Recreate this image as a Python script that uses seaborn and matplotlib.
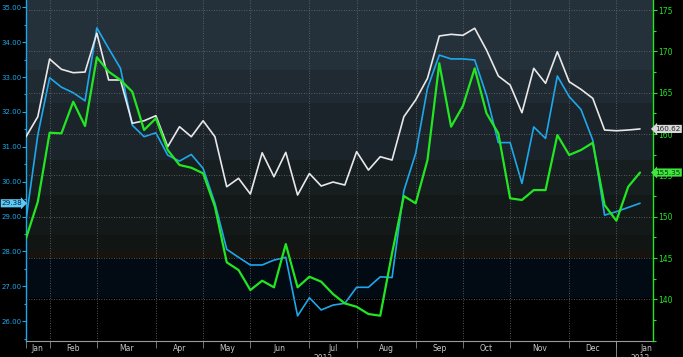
import matplotlib
matplotlib.use("Agg")
import matplotlib.pyplot as plt
from matplotlib.ticker import FixedLocator, MultipleLocator, FormatStrFormatter
import numpy as np
import pandas as pd
import seaborn as sns

# weekly bars (Fridays), Jan 2012 - Jan 2013
week_dates = pd.date_range("2012-01-20", periods=53, freq="W-FRI")

# blue series, left axis
blue_left = [
    28.90, 31.34, 32.98, 32.71, 32.55, 32.32, 34.41, 33.82, 33.25, 31.62,
    31.29, 31.40, 30.76, 30.59, 30.78, 30.38, 29.38, 28.06, 27.83, 27.61,
    27.61, 27.75, 27.83, 26.15, 26.67, 26.32, 26.46, 26.51, 26.97, 26.97,
    27.27, 27.25, 29.74, 30.81, 32.68, 33.63, 33.52, 33.52, 33.49, 32.48,
    31.12, 31.12, 29.95, 31.57, 31.24, 33.03, 32.44, 32.07, 31.19, 29.04,
    29.14, 29.26, 29.38,
]

# white series, right axis
white_right = [
    159.68, 162.10, 169.07, 167.83, 167.42, 167.50, 172.20, 166.54, 166.54, 161.30,
    161.61, 162.22, 158.47, 160.89, 159.68, 161.61, 159.68, 153.63, 154.65, 152.75,
    157.74, 154.84, 157.79, 152.63, 155.23, 153.72, 154.20, 153.84, 157.87, 155.65,
    157.26, 156.86, 162.10, 164.12, 166.74, 171.86, 172.06, 171.94, 172.79, 170.16,
    167.02, 165.93, 162.58, 167.95, 166.14, 169.96, 166.33, 165.41, 164.32, 160.49,
    160.40, 160.49, 160.62,
]

# green series, right axis
green_right = [
    147.39, 151.82, 160.16, 160.09, 163.91, 160.97, 169.28, 167.54, 166.54, 165.12,
    160.49, 161.90, 158.07, 156.26, 155.93, 155.25, 151.22, 144.49, 143.56, 141.14,
    142.27, 141.47, 146.70, 141.47, 142.75, 142.15, 140.66, 139.53, 139.12, 138.24,
    138.04, 145.58, 152.51, 151.63, 156.86, 168.56, 160.89, 163.39, 167.95, 162.51,
    160.09, 152.23, 152.03, 153.23, 153.23, 159.88, 157.47, 158.07, 158.95, 151.42,
    149.52, 153.63, 155.35,
]

left_ticks = [26, 27, 28, 29, 30, 31, 32, 33, 34, 35]
right_ticks = [140, 145, 150, 155, 160, 165, 170, 175]

BLUE = "#1ea8ec"
GREEN = "#22e622"
WHITE = "#e8e8e8"

sns.set_style("dark")
plt.rcParams["font.family"] = ["DejaVu Sans"]

df = pd.DataFrame({
    "bar": np.arange(len(week_dates)),
    "date": week_dates,
    "blue": blue_left,
    "white": white_right,
    "green": green_right,
})

# first bar of each month -> gridlines, month names centred between them
month_starts = df.index[df["date"].dt.month != df["date"].dt.month.shift()].tolist()
edges = month_starts[1:] + [month_starts[-1] + 5]
month_names = df.loc[month_starts, "date"].dt.strftime("%b").tolist()
label_pos = [(a + b) / 2 for a, b in zip(month_starts, edges)]

fig = plt.figure(figsize=(6.83, 3.57), dpi=100, facecolor="black")
ax = fig.add_axes([26 / 683, 16 / 357, 627 / 683, 341 / 357])
ax.set_facecolor("black")
ax2 = ax.twinx()

ax.set_xlim(0, 53.1)
ax.set_ylim(25.43, 35.21)
ax2.set_ylim(134.98, 176.21)

# background bands
bands = [
    (33.20, 35.21, "#24313b"),
    (32.25, 33.20, "#1f2a33"),
    (30.62, 32.25, "#1b232b"),
    (29.62, 30.62, "#161e1f"),
    (28.47, 29.62, "#131918"),
    (28.04, 28.47, "#111615"),
    (27.81, 28.04, "#17130f"),
    (26.66, 27.81, "#020a13"),
]
for lo, hi, c in bands:
    ax.axhspan(lo, hi, color=c, lw=0, zorder=0)

sns.lineplot(data=df, x="bar", y="blue", ax=ax, color=BLUE, lw=1.2, zorder=3)
sns.lineplot(data=df, x="bar", y="white", ax=ax2, color=WHITE, lw=1.2, zorder=3)
sns.lineplot(data=df, x="bar", y="green", ax=ax2, color=GREEN, lw=1.6, zorder=4)
ax.set_xlabel("")
ax.set_ylabel("")
ax2.set_ylabel("")

# grid
ax.set_xticks(month_starts)
ax.set_xticklabels([])
ax.grid(axis="x", color="#6e6e6e", ls=(0, (1, 2)), lw=0.6)
ax.grid(axis="y", visible=False)
ax2.grid(axis="y", color="#6e6e6e", ls=(0, (1, 2)), lw=0.6)
ax2.grid(axis="x", visible=False)
ax.tick_params(axis="x", length=5, width=0.6, color="#888888", direction="out", bottom=True)

for pos, name in zip(label_pos, month_names):
    ax.text(pos, -0.022, name, transform=ax.get_xaxis_transform(), ha="center",
            va="center", fontsize=5.5, color="#c8c8c8")
ax.axvline(month_starts[-1], ymin=-0.05, ymax=0, clip_on=False, color="#999999", lw=0.6)
ax.text(25.2, -0.05, "2012", transform=ax.get_xaxis_transform(), ha="center",
        va="center", fontsize=5.5, color="#c8c8c8", clip_on=False)
ax.text(52.0, -0.05, "2013", transform=ax.get_xaxis_transform(), ha="center",
        va="center", fontsize=5.5, color="#c8c8c8", clip_on=False)

# left axis
ax.yaxis.set_major_locator(FixedLocator(left_ticks))
ax.yaxis.set_minor_locator(MultipleLocator(0.5))
ax.yaxis.set_major_formatter(FormatStrFormatter("%.2f"))
ax.tick_params(axis="y", which="both", left=True, colors=BLUE, labelsize=5, pad=0.8, width=0.8)
ax.tick_params(axis="y", which="major", length=2.6)
ax.tick_params(axis="y", which="minor", length=1.8)

# right axis
ax2.yaxis.set_major_locator(FixedLocator(right_ticks))
ax2.yaxis.set_minor_locator(MultipleLocator(2.5))
ax2.yaxis.set_major_formatter(FormatStrFormatter("%d"))
ax2.tick_params(axis="y", which="both", right=True, colors=GREEN, labelsize=5.5, pad=1.0, width=0.8)
ax2.tick_params(axis="y", which="major", length=3)
ax2.tick_params(axis="y", which="minor", length=2)

for a in (ax, ax2):
    a.spines["top"].set_visible(False)
ax.spines["left"].set_color(BLUE)
ax.spines["left"].set_linewidth(1.0)
ax2.spines["left"].set_visible(False)
ax2.spines["right"].set_color(GREEN)
ax2.spines["right"].set_linewidth(1.0)
ax.spines["right"].set_visible(False)
ax.spines["bottom"].set_color("#9a9a9a")
ax.spines["bottom"].set_linewidth(0.8)
ax2.spines["bottom"].set_visible(False)

# last-value tags
ax.text(-0.022, blue_left[-1], f"{blue_left[-1]:.2f}", transform=ax.get_yaxis_transform(),
        ha="center", va="center", fontsize=5.2, color="#0a2535", clip_on=False, zorder=10,
        bbox=dict(boxstyle="rarrow,pad=0.15", fc="#5ec8f6", ec="none"))
ax2.text(1.024, white_right[-1], f"{white_right[-1]:.2f}", transform=ax2.get_yaxis_transform(),
         ha="center", va="center", fontsize=5.2, color="#222222", clip_on=False, zorder=10,
         bbox=dict(boxstyle="larrow,pad=0.15", fc="#d8d8d8", ec="none"))
ax2.text(1.024, green_right[-1], f"{green_right[-1]:.2f}", transform=ax2.get_yaxis_transform(),
         ha="center", va="center", fontsize=5.2, color="#0b3d0b", clip_on=False, zorder=10,
         bbox=dict(boxstyle="larrow,pad=0.15", fc="#3ee63e", ec="none"))

fig.savefig("out.png", dpi=100, facecolor="black")
